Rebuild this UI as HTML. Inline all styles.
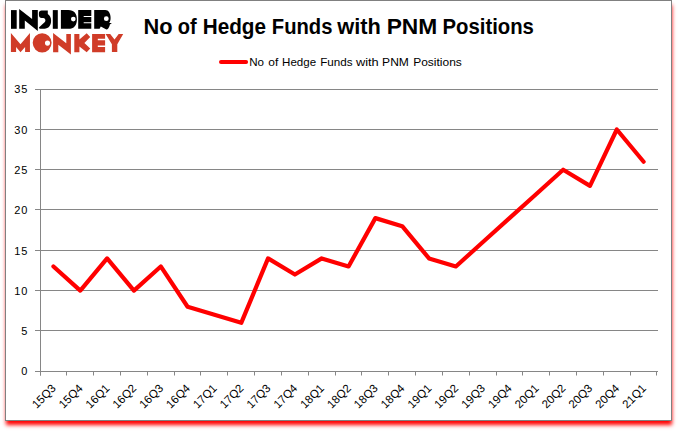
<!DOCTYPE html>
<html><head><meta charset="utf-8"><style>
html,body{margin:0;padding:0;background:#fff;width:678px;height:431px;overflow:hidden}
.box{position:absolute;left:5px;top:0;width:665px;height:419px;border:1px solid #808080;background:#fff;box-shadow:0.5px 4.5px 4px -0.5px #ff0000}
svg{position:absolute;left:0;top:0}
text{font-family:"Liberation Sans",sans-serif;fill:#000}
</style></head><body>
<div class="box"></div>
<svg width="678" height="431" viewBox="0 0 678 431">

<g fill="#000">
  <rect x="11" y="10.1" width="5.7" height="18.7"/>
  <path d="M19.2 9 L32.1 19 L32.1 10.1 L37.8 10.1 L37.8 31 L24.8 20.6 L24.8 28.8 L19.2 28.8 Z"/>
  <path d="M41.6 10.4 L47.8 10.4 L47.8 14.0 C49.9 15.3 51.1 17.6 51.1 20.8 C51.1 25.5 48.5 28.7 44.5 28.7 L39.6 28.7 L38.9 27.6 L43.2 23.6 C44.6 22.6 45.4 21.8 45.4 20.6 C45.4 19.1 44.6 18.0 43.2 18.0 L41.6 18.0 C40.0 18.0 38.9 16.8 38.9 15.0 L38.9 13.0 C38.9 11.4 40.0 10.4 41.6 10.4 Z"/>
  <rect x="52.8" y="10.1" width="5" height="18.7"/>
  <path fill-rule="evenodd" d="M60.9 10.1 L68.3 10.1 C74.2 10.1 76.9 13.8 76.9 19.45 C76.9 25.1 74.2 28.8 68.3 28.8 L60.9 28.8 Z M73.3 19.1 m-2.35 0 a2.35 2.35 0 1 0 4.7 0 a2.35 2.35 0 1 0 -4.7 0 Z"/>
  <path fill-rule="evenodd" d="M78.2 10.1 L91.3 10.1 L91.3 28.8 L78.2 28.8 Z M83.7 15.95 L91.3 15.95 L91.3 17.05 L83.7 17.05 Z M83.7 22.15 L91.3 22.15 L91.3 23.25 L83.7 23.25 Z"/>
  <path fill-rule="evenodd" d="M94.2 10.1 L105.3 10.1 C108.5 10.1 110.6 13.5 110.6 18.0 C110.6 20.2 110.1 21.8 109.2 22.9 L111.9 22.9 L109.9 24.4 C109.5 26.5 108.6 28.2 107.4 29.3 L106.4 29.4 L100.8 26.4 L99.6 28.7 L94.2 28.7 Z M106.3 18.7 m-2.4 0 a2.4 2.4 0 1 0 4.8 0 a2.4 2.4 0 1 0 -4.8 0 Z"/>
</g>
<g fill="#d03c28">
  <path d="M10.9 32.9 L20.5 44.3 L29.95 32.9 L29.95 52.1 L25.1 52.1 L25.1 47.0 L20.5 52.3 L16.1 47.0 L16.1 52.1 L10.9 52.1 Z"/>
  <path fill-rule="evenodd" d="M42.15 42.85 m-9.45 0 a9.45 9.6 0 1 0 18.9 0 a9.45 9.6 0 1 0 -18.9 0 Z M47.5 43.1 m-2.55 0 a2.55 2.55 0 1 0 5.1 0 a2.55 2.55 0 1 0 -5.1 0 Z"/>
  <path d="M53.1 33 L66.3 43.2 L66.3 34.1 L70.9 34.1 L70.9 54.4 L58.3 44.7 L58.3 52.3 L53.1 52.3 Z"/>
  <path d="M74.3 34.1 L79.4 34.1 L79.4 39.6 L86.7 33.2 L90.2 37 L84.4 43.1 L90.2 48.6 L86.7 52.2 L79.4 46.4 L79.4 52.3 L74.3 52.3 Z"/>
  <path fill-rule="evenodd" d="M92.1 34.1 L105.1 34.1 L105.1 52.3 L92.1 52.3 Z M97.8 38.85 L105.1 38.85 L105.1 40.15 L97.8 40.15 Z M97.8 45.6 L105.1 45.6 L105.1 46.9 L97.8 46.9 Z"/>
  <path d="M105.6 34.1 L110.2 34.1 L114.5 39.5 L118.7 34.1 L123.2 34.1 L117.3 44.3 L117.3 52.1 L111.9 52.1 L111.9 44.3 Z"/>
</g>

<line x1="35" y1="330.50" x2="658" y2="330.50" stroke="#868686" stroke-width="1"/>
<line x1="35" y1="290.50" x2="658" y2="290.50" stroke="#868686" stroke-width="1"/>
<line x1="35" y1="250.50" x2="658" y2="250.50" stroke="#868686" stroke-width="1"/>
<line x1="35" y1="209.50" x2="658" y2="209.50" stroke="#868686" stroke-width="1"/>
<line x1="35" y1="169.50" x2="658" y2="169.50" stroke="#868686" stroke-width="1"/>
<line x1="35" y1="129.50" x2="658" y2="129.50" stroke="#868686" stroke-width="1"/>
<line x1="35" y1="89.50" x2="658" y2="89.50" stroke="#868686" stroke-width="1"/>
<line x1="35" y1="371.5" x2="658" y2="371.5" stroke="#868686" stroke-width="1"/>
<line x1="40.5" y1="89.00" x2="40.5" y2="375.5" stroke="#868686" stroke-width="1"/>
<line x1="40.5" y1="371.5" x2="40.5" y2="375.5" stroke="#868686" stroke-width="1"/>
<line x1="66.5" y1="371.5" x2="66.5" y2="375.5" stroke="#868686" stroke-width="1"/>
<line x1="93.5" y1="371.5" x2="93.5" y2="375.5" stroke="#868686" stroke-width="1"/>
<line x1="120.5" y1="371.5" x2="120.5" y2="375.5" stroke="#868686" stroke-width="1"/>
<line x1="147.5" y1="371.5" x2="147.5" y2="375.5" stroke="#868686" stroke-width="1"/>
<line x1="174.5" y1="371.5" x2="174.5" y2="375.5" stroke="#868686" stroke-width="1"/>
<line x1="200.5" y1="371.5" x2="200.5" y2="375.5" stroke="#868686" stroke-width="1"/>
<line x1="227.5" y1="371.5" x2="227.5" y2="375.5" stroke="#868686" stroke-width="1"/>
<line x1="254.5" y1="371.5" x2="254.5" y2="375.5" stroke="#868686" stroke-width="1"/>
<line x1="281.5" y1="371.5" x2="281.5" y2="375.5" stroke="#868686" stroke-width="1"/>
<line x1="308.5" y1="371.5" x2="308.5" y2="375.5" stroke="#868686" stroke-width="1"/>
<line x1="335.5" y1="371.5" x2="335.5" y2="375.5" stroke="#868686" stroke-width="1"/>
<line x1="361.5" y1="371.5" x2="361.5" y2="375.5" stroke="#868686" stroke-width="1"/>
<line x1="388.5" y1="371.5" x2="388.5" y2="375.5" stroke="#868686" stroke-width="1"/>
<line x1="415.5" y1="371.5" x2="415.5" y2="375.5" stroke="#868686" stroke-width="1"/>
<line x1="442.5" y1="371.5" x2="442.5" y2="375.5" stroke="#868686" stroke-width="1"/>
<line x1="469.5" y1="371.5" x2="469.5" y2="375.5" stroke="#868686" stroke-width="1"/>
<line x1="496.5" y1="371.5" x2="496.5" y2="375.5" stroke="#868686" stroke-width="1"/>
<line x1="522.5" y1="371.5" x2="522.5" y2="375.5" stroke="#868686" stroke-width="1"/>
<line x1="549.5" y1="371.5" x2="549.5" y2="375.5" stroke="#868686" stroke-width="1"/>
<line x1="576.5" y1="371.5" x2="576.5" y2="375.5" stroke="#868686" stroke-width="1"/>
<line x1="603.5" y1="371.5" x2="603.5" y2="375.5" stroke="#868686" stroke-width="1"/>
<line x1="630.5" y1="371.5" x2="630.5" y2="375.5" stroke="#868686" stroke-width="1"/>
<line x1="656.5" y1="371.5" x2="656.5" y2="375.5" stroke="#868686" stroke-width="1"/>
<text x="28.30" y="375.40" font-size="11" letter-spacing="0.9" text-anchor="end">0</text>
<text x="28.30" y="335.11" font-size="11" letter-spacing="0.9" text-anchor="end">5</text>
<text x="28.30" y="294.83" font-size="11" letter-spacing="0.9" text-anchor="end">10</text>
<text x="28.30" y="254.54" font-size="11" letter-spacing="0.9" text-anchor="end">15</text>
<text x="28.30" y="214.26" font-size="11" letter-spacing="0.9" text-anchor="end">20</text>
<text x="28.30" y="173.97" font-size="11" letter-spacing="0.9" text-anchor="end">25</text>
<text x="28.30" y="133.69" font-size="11" letter-spacing="0.9" text-anchor="end">30</text>
<text x="28.30" y="93.41" font-size="11" letter-spacing="0.9" text-anchor="end">35</text>
<text x="56.61" y="389.00" font-size="11.5" text-anchor="end" transform="rotate(-45 56.61 389.00)">15Q3</text>
<text x="83.44" y="389.00" font-size="11.5" text-anchor="end" transform="rotate(-45 83.44 389.00)">15Q4</text>
<text x="110.27" y="389.00" font-size="11.5" text-anchor="end" transform="rotate(-45 110.27 389.00)">16Q1</text>
<text x="137.09" y="389.00" font-size="11.5" text-anchor="end" transform="rotate(-45 137.09 389.00)">16Q2</text>
<text x="163.92" y="389.00" font-size="11.5" text-anchor="end" transform="rotate(-45 163.92 389.00)">16Q3</text>
<text x="190.74" y="389.00" font-size="11.5" text-anchor="end" transform="rotate(-45 190.74 389.00)">16Q4</text>
<text x="217.57" y="389.00" font-size="11.5" text-anchor="end" transform="rotate(-45 217.57 389.00)">17Q1</text>
<text x="244.39" y="389.00" font-size="11.5" text-anchor="end" transform="rotate(-45 244.39 389.00)">17Q2</text>
<text x="271.22" y="389.00" font-size="11.5" text-anchor="end" transform="rotate(-45 271.22 389.00)">17Q3</text>
<text x="298.05" y="389.00" font-size="11.5" text-anchor="end" transform="rotate(-45 298.05 389.00)">17Q4</text>
<text x="324.87" y="389.00" font-size="11.5" text-anchor="end" transform="rotate(-45 324.87 389.00)">18Q1</text>
<text x="351.70" y="389.00" font-size="11.5" text-anchor="end" transform="rotate(-45 351.70 389.00)">18Q2</text>
<text x="378.52" y="389.00" font-size="11.5" text-anchor="end" transform="rotate(-45 378.52 389.00)">18Q3</text>
<text x="405.35" y="389.00" font-size="11.5" text-anchor="end" transform="rotate(-45 405.35 389.00)">18Q4</text>
<text x="432.18" y="389.00" font-size="11.5" text-anchor="end" transform="rotate(-45 432.18 389.00)">19Q1</text>
<text x="459.00" y="389.00" font-size="11.5" text-anchor="end" transform="rotate(-45 459.00 389.00)">19Q2</text>
<text x="485.83" y="389.00" font-size="11.5" text-anchor="end" transform="rotate(-45 485.83 389.00)">19Q3</text>
<text x="512.65" y="389.00" font-size="11.5" text-anchor="end" transform="rotate(-45 512.65 389.00)">19Q4</text>
<text x="539.48" y="389.00" font-size="11.5" text-anchor="end" transform="rotate(-45 539.48 389.00)">20Q1</text>
<text x="566.31" y="389.00" font-size="11.5" text-anchor="end" transform="rotate(-45 566.31 389.00)">20Q2</text>
<text x="593.13" y="389.00" font-size="11.5" text-anchor="end" transform="rotate(-45 593.13 389.00)">20Q3</text>
<text x="619.96" y="389.00" font-size="11.5" text-anchor="end" transform="rotate(-45 619.96 389.00)">20Q4</text>
<text x="646.79" y="389.00" font-size="11.5" text-anchor="end" transform="rotate(-45 646.79 389.00)">21Q1</text>
<polyline points="53.46,266.46 80.29,290.63 107.11,258.40 133.94,290.63 160.77,266.46 187.59,306.74 214.42,314.80 241.25,322.86 268.07,258.40 294.90,274.52 321.72,258.40 348.55,266.46 375.38,218.12 402.20,226.17 429.03,258.40 455.85,266.46 482.68,242.29 509.50,218.12 536.33,193.95 563.16,169.77 589.98,185.89 616.81,129.49 643.63,161.72" fill="none" stroke="#ff0000" stroke-width="4.2" stroke-linejoin="round" stroke-linecap="round"/>
<text x="143.40" y="33.9" font-size="21.8" font-weight="bold" textLength="29.10" lengthAdjust="spacingAndGlyphs">No</text>
<text x="177.80" y="33.9" font-size="21.8" font-weight="bold" textLength="18.90" lengthAdjust="spacingAndGlyphs">of</text>
<text x="202.70" y="33.9" font-size="21.8" font-weight="bold" textLength="63.30" lengthAdjust="spacingAndGlyphs">Hedge</text>
<text x="271.80" y="33.9" font-size="21.8" font-weight="bold" textLength="60.60" lengthAdjust="spacingAndGlyphs">Funds</text>
<text x="337.30" y="33.9" font-size="21.8" font-weight="bold" textLength="43.60" lengthAdjust="spacingAndGlyphs">with</text>
<text x="386.70" y="33.9" font-size="21.8" font-weight="bold" textLength="50.60" lengthAdjust="spacingAndGlyphs">PNM</text>
<text x="442.50" y="33.9" font-size="21.8" font-weight="bold" textLength="91.40" lengthAdjust="spacingAndGlyphs">Positions</text>
<text x="249.20" y="65.7" font-size="11" textLength="14.80" lengthAdjust="spacingAndGlyphs">No</text>
<text x="268.30" y="65.7" font-size="11" textLength="10.00" lengthAdjust="spacingAndGlyphs">of</text>
<text x="282.10" y="65.7" font-size="11" textLength="34.00" lengthAdjust="spacingAndGlyphs">Hedge</text>
<text x="320.20" y="65.7" font-size="11" textLength="32.40" lengthAdjust="spacingAndGlyphs">Funds</text>
<text x="355.90" y="65.7" font-size="11" textLength="22.80" lengthAdjust="spacingAndGlyphs">with</text>
<text x="382.10" y="65.7" font-size="11" textLength="26.80" lengthAdjust="spacingAndGlyphs">PNM</text>
<text x="413.20" y="65.7" font-size="11" textLength="48.60" lengthAdjust="spacingAndGlyphs">Positions</text>
<line x1="221" y1="62" x2="246.1" y2="62" stroke="#ff0000" stroke-width="4" stroke-linecap="round"/>
</svg>
</body></html>
